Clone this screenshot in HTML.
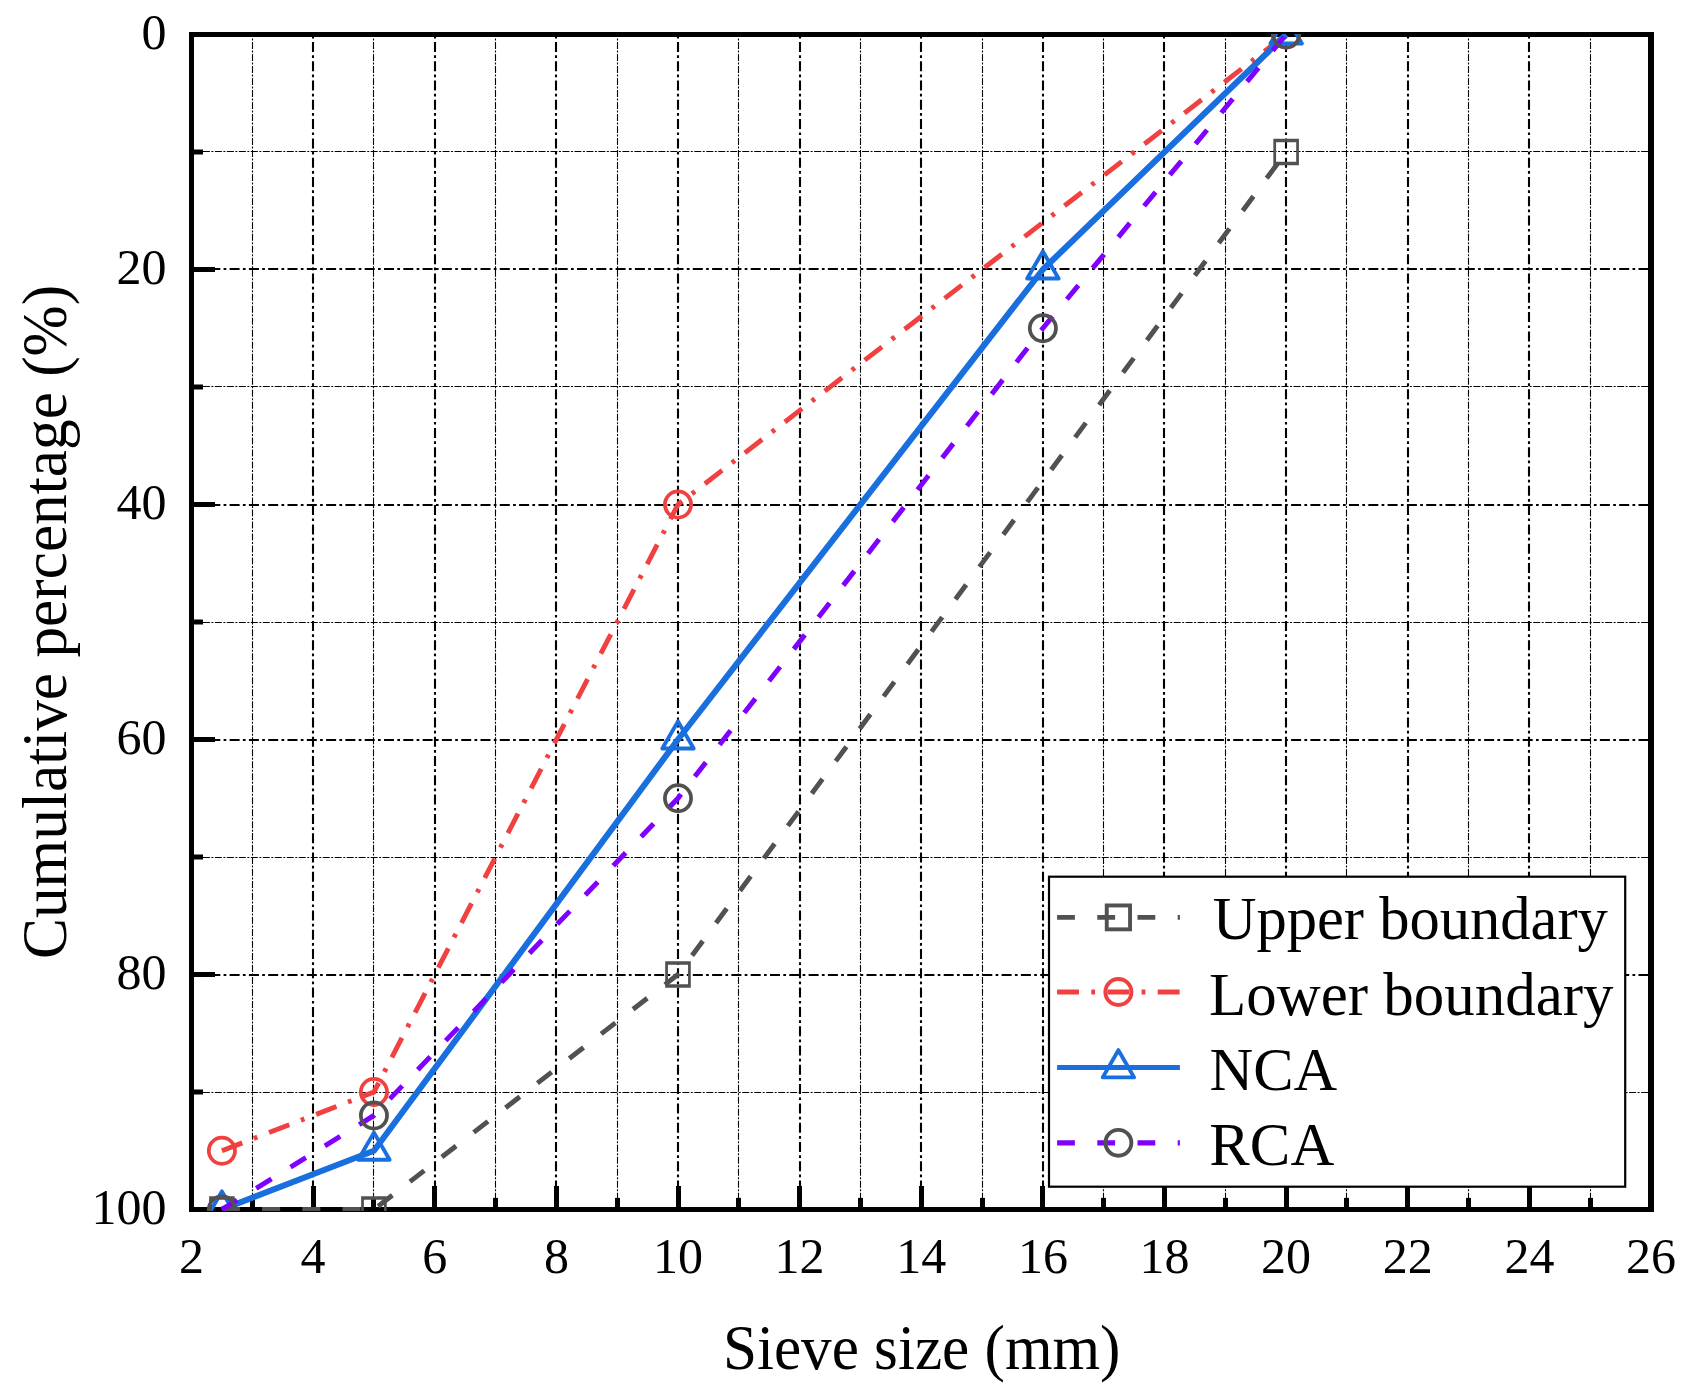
<!DOCTYPE html>
<html lang="en"><head><meta charset="utf-8"><title>Sieve size vs cumulative percentage</title>
<style>html,body{margin:0;padding:0;background:#fff}svg{display:block}text{font-family:'Liberation Serif', 'Times New Roman', Times, serif;fill:#000}</style></head><body>
<svg width="1700" height="1399" viewBox="0 0 1700 1399">
<rect x="0" y="0" width="1700" height="1399" fill="#fff"/>
<defs><clipPath id="pc"><rect x="189.00" y="34.00" width="1464.50" height="1177.00"/></clipPath>
<clipPath id="gc"><rect x="191.50" y="34.50" width="1459.50" height="1175.00"/></clipPath></defs>
<g clip-path="url(#gc)" stroke="#000" fill="none">
<line x1="252.50" y1="-5.84" x2="252.50" y2="1209.50" stroke-width="1.1" stroke-dasharray="7 1.5 2 1.485"/>
<line x1="313.00" y1="-16.00" x2="313.00" y2="1209.50" stroke-width="2.1" stroke-dasharray="10 3.3 2.7 3.3"/>
<line x1="373.50" y1="-5.84" x2="373.50" y2="1209.50" stroke-width="1.1" stroke-dasharray="7 1.5 2 1.485"/>
<line x1="435.00" y1="-16.00" x2="435.00" y2="1209.50" stroke-width="2.1" stroke-dasharray="10 3.3 2.7 3.3"/>
<line x1="495.50" y1="-5.84" x2="495.50" y2="1209.50" stroke-width="1.1" stroke-dasharray="7 1.5 2 1.485"/>
<line x1="556.00" y1="-16.00" x2="556.00" y2="1209.50" stroke-width="2.1" stroke-dasharray="10 3.3 2.7 3.3"/>
<line x1="617.50" y1="-5.84" x2="617.50" y2="1209.50" stroke-width="1.1" stroke-dasharray="7 1.5 2 1.485"/>
<line x1="678.00" y1="-16.00" x2="678.00" y2="1209.50" stroke-width="2.1" stroke-dasharray="10 3.3 2.7 3.3"/>
<line x1="738.50" y1="-5.84" x2="738.50" y2="1209.50" stroke-width="1.1" stroke-dasharray="7 1.5 2 1.485"/>
<line x1="800.00" y1="-16.00" x2="800.00" y2="1209.50" stroke-width="2.1" stroke-dasharray="10 3.3 2.7 3.3"/>
<line x1="860.50" y1="-5.84" x2="860.50" y2="1209.50" stroke-width="1.1" stroke-dasharray="7 1.5 2 1.485"/>
<line x1="921.00" y1="-16.00" x2="921.00" y2="1209.50" stroke-width="2.1" stroke-dasharray="10 3.3 2.7 3.3"/>
<line x1="982.50" y1="-5.84" x2="982.50" y2="1209.50" stroke-width="1.1" stroke-dasharray="7 1.5 2 1.485"/>
<line x1="1043.00" y1="-16.00" x2="1043.00" y2="1209.50" stroke-width="2.1" stroke-dasharray="10 3.3 2.7 3.3"/>
<line x1="1103.50" y1="-5.84" x2="1103.50" y2="1209.50" stroke-width="1.1" stroke-dasharray="7 1.5 2 1.485"/>
<line x1="1164.00" y1="-16.00" x2="1164.00" y2="1209.50" stroke-width="2.1" stroke-dasharray="10 3.3 2.7 3.3"/>
<line x1="1225.50" y1="-5.84" x2="1225.50" y2="1209.50" stroke-width="1.1" stroke-dasharray="7 1.5 2 1.485"/>
<line x1="1286.00" y1="-16.00" x2="1286.00" y2="1209.50" stroke-width="2.1" stroke-dasharray="10 3.3 2.7 3.3"/>
<line x1="1346.50" y1="-5.84" x2="1346.50" y2="1209.50" stroke-width="1.1" stroke-dasharray="7 1.5 2 1.485"/>
<line x1="1408.00" y1="-16.00" x2="1408.00" y2="1209.50" stroke-width="2.1" stroke-dasharray="10 3.3 2.7 3.3"/>
<line x1="1468.50" y1="-5.84" x2="1468.50" y2="1209.50" stroke-width="1.1" stroke-dasharray="7 1.5 2 1.485"/>
<line x1="1529.00" y1="-16.00" x2="1529.00" y2="1209.50" stroke-width="2.1" stroke-dasharray="10 3.3 2.7 3.3"/>
<line x1="1590.50" y1="-5.84" x2="1590.50" y2="1209.50" stroke-width="1.1" stroke-dasharray="7 1.5 2 1.485"/>
<line x1="190.90" y1="151.50" x2="1651.00" y2="151.50" stroke-width="1.2" stroke-dasharray="7 1.5 2 1.485"/>
<line x1="191.00" y1="269.00" x2="1651.00" y2="269.00" stroke-width="2.1" stroke-dasharray="10 3.3 2.7 3.3"/>
<line x1="190.90" y1="386.50" x2="1651.00" y2="386.50" stroke-width="1.2" stroke-dasharray="7 1.5 2 1.485"/>
<line x1="191.00" y1="505.00" x2="1651.00" y2="505.00" stroke-width="2.1" stroke-dasharray="10 3.3 2.7 3.3"/>
<line x1="190.90" y1="622.50" x2="1651.00" y2="622.50" stroke-width="1.2" stroke-dasharray="7 1.5 2 1.485"/>
<line x1="191.00" y1="740.00" x2="1651.00" y2="740.00" stroke-width="2.1" stroke-dasharray="10 3.3 2.7 3.3"/>
<line x1="190.90" y1="857.50" x2="1651.00" y2="857.50" stroke-width="1.2" stroke-dasharray="7 1.5 2 1.485"/>
<line x1="191.00" y1="975.00" x2="1651.00" y2="975.00" stroke-width="2.1" stroke-dasharray="10 3.3 2.7 3.3"/>
<line x1="190.90" y1="1092.50" x2="1651.00" y2="1092.50" stroke-width="1.2" stroke-dasharray="7 1.5 2 1.485"/>
</g>
<g stroke="#000" stroke-width="5" fill="none" stroke-linecap="butt">
<path d="M189 34.5H1654M189 1209.5H1654M191.5 32V1212"/>
<path d="M1651 32V1212" stroke-width="6"/>
<line x1="252.50" y1="1209.50" x2="252.50" y2="1197.90"/>
<line x1="313.50" y1="1209.50" x2="313.50" y2="1186.00"/>
<line x1="373.50" y1="1209.50" x2="373.50" y2="1197.90"/>
<line x1="434.50" y1="1209.50" x2="434.50" y2="1186.00"/>
<line x1="495.50" y1="1209.50" x2="495.50" y2="1197.90"/>
<line x1="556.50" y1="1209.50" x2="556.50" y2="1186.00"/>
<line x1="617.50" y1="1209.50" x2="617.50" y2="1197.90"/>
<line x1="678.50" y1="1209.50" x2="678.50" y2="1186.00"/>
<line x1="738.50" y1="1209.50" x2="738.50" y2="1197.90"/>
<line x1="799.50" y1="1209.50" x2="799.50" y2="1186.00"/>
<line x1="860.50" y1="1209.50" x2="860.50" y2="1197.90"/>
<line x1="921.50" y1="1209.50" x2="921.50" y2="1186.00"/>
<line x1="982.50" y1="1209.50" x2="982.50" y2="1197.90"/>
<line x1="1042.50" y1="1209.50" x2="1042.50" y2="1186.00"/>
<line x1="1103.50" y1="1209.50" x2="1103.50" y2="1197.90"/>
<line x1="1164.50" y1="1209.50" x2="1164.50" y2="1186.00"/>
<line x1="1225.50" y1="1209.50" x2="1225.50" y2="1197.90"/>
<line x1="1286.50" y1="1209.50" x2="1286.50" y2="1186.00"/>
<line x1="1346.50" y1="1209.50" x2="1346.50" y2="1197.90"/>
<line x1="1407.50" y1="1209.50" x2="1407.50" y2="1186.00"/>
<line x1="1468.50" y1="1209.50" x2="1468.50" y2="1197.90"/>
<line x1="1529.50" y1="1209.50" x2="1529.50" y2="1186.00"/>
<line x1="1590.50" y1="1209.50" x2="1590.50" y2="1197.90"/>
<line x1="191.50" y1="152.00" x2="203.00" y2="152.00"/>
<line x1="191.50" y1="269.50" x2="215.00" y2="269.50"/>
<line x1="191.50" y1="387.00" x2="203.00" y2="387.00"/>
<line x1="191.50" y1="504.50" x2="215.00" y2="504.50"/>
<line x1="191.50" y1="622.00" x2="203.00" y2="622.00"/>
<line x1="191.50" y1="739.50" x2="215.00" y2="739.50"/>
<line x1="191.50" y1="857.00" x2="203.00" y2="857.00"/>
<line x1="191.50" y1="974.50" x2="215.00" y2="974.50"/>
<line x1="191.50" y1="1092.00" x2="203.00" y2="1092.00"/>
</g>
<g clip-path="url(#pc)" fill="none">
<polyline points="221.91,1150.75 373.94,1092.00 678.00,504.50 1286.12,34.50" stroke="#F14040" stroke-width="4.9" stroke-dasharray="21.8 12.35 3.8 12.55"/>
<circle cx="221.91" cy="1150.75" r="13.10" fill="none" stroke="#F14040" stroke-width="3.75"/>
<circle cx="373.94" cy="1092.00" r="13.10" fill="none" stroke="#F14040" stroke-width="3.75"/>
<circle cx="678.00" cy="504.50" r="13.10" fill="none" stroke="#F14040" stroke-width="3.75"/>
<circle cx="1286.12" cy="34.50" r="13.10" fill="none" stroke="#F14040" stroke-width="3.75"/>
<polyline points="221.91,1209.50 373.94,1150.75 678.00,739.50 1042.88,269.50 1286.12,34.50" stroke="#1A6FDF" stroke-width="6.1" stroke-linejoin="round"/>
<path d="M221.91 1191.37L237.61 1218.56L206.21 1218.56Z" fill="none" stroke="#1A6FDF" stroke-width="3.90" stroke-linejoin="round"/>
<path d="M373.94 1132.62L389.64 1159.81L358.24 1159.81Z" fill="none" stroke="#1A6FDF" stroke-width="3.90" stroke-linejoin="round"/>
<path d="M678.00 721.37L693.70 748.56L662.30 748.56Z" fill="none" stroke="#1A6FDF" stroke-width="3.90" stroke-linejoin="round"/>
<path d="M1042.88 251.37L1058.58 278.56L1027.17 278.56Z" fill="none" stroke="#1A6FDF" stroke-width="3.90" stroke-linejoin="round"/>
<path d="M1286.12 16.37L1301.83 43.56L1270.42 43.56Z" fill="none" stroke="#1A6FDF" stroke-width="3.90" stroke-linejoin="round"/>
<polyline points="221.91,1209.50 373.94,1209.50" stroke="#515151" stroke-width="4.9" stroke-dasharray="18 22.2"/>
<polyline points="373.94,1209.50 678.00,974.50 1286.12,152.00" stroke="#515151" stroke-width="4.9" stroke-dasharray="18 22.27" stroke-dashoffset="34.97"/>
<path fill="#515151" fill-rule="evenodd" stroke="none" d="M209.11 1196.20h25.60v26.60h-25.60zM211.86 1199.80h20.10v19.40h-20.10z"/>
<path fill="#515151" fill-rule="evenodd" stroke="none" d="M361.14 1196.20h25.60v26.60h-25.60zM363.89 1199.80h20.10v19.40h-20.10z"/>
<path fill="#515151" fill-rule="evenodd" stroke="none" d="M665.20 961.20h25.60v26.60h-25.60zM667.95 964.80h20.10v19.40h-20.10z"/>
<path fill="#515151" fill-rule="evenodd" stroke="none" d="M1273.33 138.70h25.60v26.60h-25.60zM1276.08 142.30h20.10v19.40h-20.10z"/>
<polyline points="221.91,1209.50 373.94,1115.50 678.00,798.25 1042.88,328.25 1286.12,34.50" stroke="#8000FF" stroke-width="5.0" stroke-dasharray="18 22.35"/>
<circle cx="221.91" cy="1209.50" r="13.10" fill="none" stroke="#515151" stroke-width="3.75"/>
<circle cx="373.94" cy="1115.50" r="13.10" fill="none" stroke="#515151" stroke-width="3.75"/>
<circle cx="678.00" cy="798.25" r="13.10" fill="none" stroke="#515151" stroke-width="3.75"/>
<circle cx="1042.88" cy="328.25" r="13.10" fill="none" stroke="#515151" stroke-width="3.75"/>
<circle cx="1286.12" cy="34.50" r="13.10" fill="none" stroke="#515151" stroke-width="3.75"/>
</g>
<rect x="1049" y="876.7" width="576.2" height="310" fill="#fff" stroke="#000" stroke-width="2.2"/>
<g fill="none">
<line x1="1057.1" y1="917.3" x2="1179.9" y2="917.3" stroke="#515151" stroke-width="4.8" stroke-dasharray="17.8 22.4"/>
<rect x="1106.75" y="905.45" width="23.30" height="23.90" fill="none" stroke="#515151" stroke-width="3.90"/>
<line x1="1057.1" y1="992.0" x2="1179.9" y2="992.0" stroke="#F14040" stroke-width="5.2" stroke-dasharray="21.9 12.3 3.8 12.3"/>
<circle cx="1118.40" cy="992.00" r="13.05" fill="none" stroke="#F14040" stroke-width="3.90"/>
<line x1="1057.1" y1="1067.5" x2="1179.9" y2="1067.5" stroke="#1A6FDF" stroke-width="5.2"/>
<path d="M1118.40 1050.17L1134.10 1077.36L1102.70 1077.36Z" fill="none" stroke="#1A6FDF" stroke-width="3.90" stroke-linejoin="round"/>
<line x1="1057.1" y1="1142.8" x2="1179.9" y2="1142.8" stroke="#8000FF" stroke-width="5.3" stroke-dasharray="17.8 22.4"/>
<circle cx="1118.40" cy="1142.80" r="12.95" fill="none" stroke="#515151" stroke-width="3.90"/>
</g>
<text x="1212.7" y="939.4" font-size="61" textLength="395.2" lengthAdjust="spacingAndGlyphs">Upper boundary</text>
<text x="1209.0" y="1015.0" font-size="61" textLength="404.6" lengthAdjust="spacingAndGlyphs">Lower boundary</text>
<text x="1209.6" y="1090.0" font-size="61" textLength="127.7" lengthAdjust="spacingAndGlyphs">NCA</text>
<text x="1209.3" y="1165.2" font-size="61" textLength="125.0" lengthAdjust="spacingAndGlyphs">RCA</text>
<text x="191.50" y="1273" font-size="50.0" text-anchor="middle">2</text>
<text x="313.12" y="1273" font-size="50.0" text-anchor="middle">4</text>
<text x="434.75" y="1273" font-size="50.0" text-anchor="middle">6</text>
<text x="556.38" y="1273" font-size="50.0" text-anchor="middle">8</text>
<text x="678.00" y="1273" font-size="50.0" text-anchor="middle">10</text>
<text x="799.62" y="1273" font-size="50.0" text-anchor="middle">12</text>
<text x="921.25" y="1273" font-size="50.0" text-anchor="middle">14</text>
<text x="1042.88" y="1273" font-size="50.0" text-anchor="middle">16</text>
<text x="1164.50" y="1273" font-size="50.0" text-anchor="middle">18</text>
<text x="1286.12" y="1273" font-size="50.0" text-anchor="middle">20</text>
<text x="1407.75" y="1273" font-size="50.0" text-anchor="middle">22</text>
<text x="1529.38" y="1273" font-size="50.0" text-anchor="middle">24</text>
<text x="1651.00" y="1273" font-size="50.0" text-anchor="middle">26</text>
<text x="166.5" y="48.50" font-size="50.0" text-anchor="end">0</text>
<text x="166.5" y="283.50" font-size="50.0" text-anchor="end">20</text>
<text x="166.5" y="518.50" font-size="50.0" text-anchor="end">40</text>
<text x="166.5" y="753.50" font-size="50.0" text-anchor="end">60</text>
<text x="166.5" y="988.50" font-size="50.0" text-anchor="end">80</text>
<text x="166.5" y="1223.50" font-size="50.0" text-anchor="end">100</text>
<text x="722.9" y="1368.9" font-size="63" textLength="397.6" lengthAdjust="spacingAndGlyphs">Sieve size (mm)</text>
<text transform="translate(66.1 959.0) rotate(-90)" x="0" y="0" font-size="63" textLength="674.1" lengthAdjust="spacingAndGlyphs">Cumulative percentage (%)</text>
</svg></body></html>
